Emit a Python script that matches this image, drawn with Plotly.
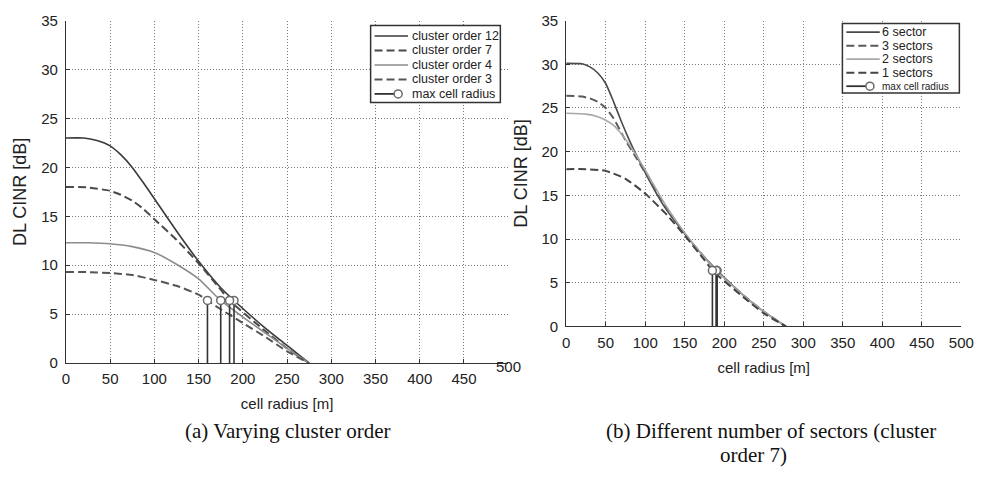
import plotly.graph_objects as go

W, H = 993, 484

# ---------------- data: (a) varying cluster order ----------------
R_ORDER12 = [0, 20, 35, 50, 62, 75, 87, 100, 125, 150, 175, 190, 225, 250, 275]
CINR_ORDER12 = [23.0, 23.0, 22.75, 22.2, 21.3, 20.0, 18.5, 16.8, 13.5, 10.4, 7.7, 6.4, 3.6, 1.8, 0.0]

R_ORDER7 = [0, 25, 50, 62, 75, 87, 100, 125, 150, 175, 185, 225, 250, 275]
CINR_ORDER7 = [18.0, 17.95, 17.6, 17.2, 16.6, 15.8, 14.7, 12.6, 10.2, 7.5, 6.4, 3.3, 1.5, 0.0]

R_ORDER4 = [0, 25, 50, 75, 100, 125, 150, 175, 200, 225, 250, 275]
CINR_ORDER4 = [12.3, 12.3, 12.2, 11.9, 11.3, 10.1, 8.6, 6.4, 4.7, 3.1, 1.5, 0.0]

R_ORDER3 = [0, 25, 50, 75, 100, 125, 150, 160, 175, 200, 225, 250, 275]
CINR_ORDER3 = [9.3, 9.3, 9.2, 9.0, 8.5, 7.9, 7.0, 6.4, 5.5, 4.1, 2.7, 1.2, 0.0]

ORDER_NAMES = ["cluster order 12", "cluster order 7", "cluster order 4", "cluster order 3"]
MAX_RADIUS_A = [190, 185, 175, 160]

# ---------------- data: (b) number of sectors ----------------
R_SECT6 = [0, 20, 30, 40, 50, 60, 70, 80, 90, 100, 113, 125, 150, 175, 191, 225, 250, 278]
CINR_SECT6 = [30.1, 30.05, 29.7, 29.0, 27.8, 25.7, 23.4, 21.3, 19.4, 17.6, 15.4, 13.6, 10.6, 7.9, 6.4, 3.5, 1.7, 0.0]

R_SECT3 = [0, 20, 30, 40, 50, 60, 75, 90, 100, 125, 150, 175, 190, 225, 250, 278]
CINR_SECT3 = [26.4, 26.3, 26.1, 25.7, 25.0, 23.8, 21.3, 19.1, 17.6, 13.8, 10.6, 7.9, 6.4, 3.5, 1.7, 0.0]

R_SECT2 = [0, 25, 40, 50, 60, 70, 80, 90, 100, 125, 150, 175, 190, 225, 250, 278]
CINR_SECT2 = [24.4, 24.3, 24.0, 23.6, 23.0, 22.0, 20.8, 19.4, 17.9, 14.0, 10.7, 7.9, 6.4, 3.5, 1.7, 0.0]

R_SECT1 = [0, 25, 50, 75, 100, 125, 150, 175, 185, 225, 250, 278]
CINR_SECT1 = [18.0, 18.0, 17.8, 16.9, 15.2, 13.0, 10.4, 7.6, 6.4, 3.3, 1.5, 0.0]

SECTOR_NAMES = ["6 sector", "3 sectors", "2 sectors", "1 sectors"]
MAX_RADIUS_B = [191, 190, 190, 185]

CINR_THRESHOLD = 6.4
MAX_LABEL = "max cell radius"

X_TICKS = [0, 50, 100, 150, 200, 250, 300, 350, 400, 450, 500]
Y_TICKS = [0, 5, 10, 15, 20, 25, 30, 35]
X_TITLE = "cell radius [m]"
Y_TITLE = "DL CINR [dB]"
CAPTION_A = "(a) Varying cluster order"
CAPTION_B1 = "(b) Different number of sectors (cluster"
CAPTION_B2 = "order 7)"

# ---------------- styles ----------------
SANS = "Liberation Sans, Arial, sans-serif"
SERIF = "Liberation Serif, Times New Roman, serif"
DASH = "8px,4px"
STYLE_A = [
    dict(color="#3a3a3a", width=1.6, dash="solid"),
    dict(color="#4a4a4a", width=2.0, dash=DASH),
    dict(color="#8c8c8c", width=1.6, dash="solid"),
    dict(color="#555555", width=2.0, dash=DASH),
]
STYLE_B = [
    dict(color="#4a4a4a", width=1.6, dash="solid"),
    dict(color="#5a5a5a", width=2.0, dash=DASH),
    dict(color="#a8a8a8", width=1.6, dash="solid"),
    dict(color="#444444", width=2.0, dash=DASH),
]

fig = go.Figure()

series_a = [(R_ORDER12, CINR_ORDER12), (R_ORDER7, CINR_ORDER7),
            (R_ORDER4, CINR_ORDER4), (R_ORDER3, CINR_ORDER3)]
series_b = [(R_SECT6, CINR_SECT6), (R_SECT3, CINR_SECT3),
            (R_SECT2, CINR_SECT2), (R_SECT1, CINR_SECT1)]


def add_panel(series, names, styles, max_radius, xa, ya):
    for (r, c), name, st in zip(series, names, styles):
        fig.add_trace(go.Scatter(
            x=r, y=c, mode="lines", name=name, xaxis=xa, yaxis=ya,
            line=dict(color=st["color"], width=st["width"], dash=st["dash"],
                      shape="spline", smoothing=0.5),
            hoverinfo="skip"))
    # stems from the axis up to the threshold at each maximum radius
    sx, sy = [], []
    for r in max_radius:
        sx += [r, r, None]
        sy += [0, CINR_THRESHOLD, None]
    fig.add_trace(go.Scatter(
        x=sx, y=sy, mode="lines", xaxis=xa, yaxis=ya,
        line=dict(color="#333333", width=1.6), hoverinfo="skip"))
    fig.add_trace(go.Scatter(
        x=max_radius, y=[CINR_THRESHOLD] * len(max_radius), mode="markers",
        name=MAX_LABEL, xaxis=xa, yaxis=ya,
        marker=dict(symbol="circle", size=8, color="white",
                    line=dict(color="#6a6a6a", width=1.5)),
        hoverinfo="skip"))


add_panel(series_a, ORDER_NAMES, STYLE_A, MAX_RADIUS_A, "x", "y")
add_panel(series_b, SECTOR_NAMES, STYLE_B, MAX_RADIUS_B, "x2", "y2")

axis_common = dict(
    showgrid=True, gridcolor="#7a7a7a", griddash="1px,2px", gridwidth=1,
    showline=True, linecolor="#333333", linewidth=1.2,
    ticks="inside", ticklen=4, tickcolor="#333333", tickwidth=1,
    zeroline=False, fixedrange=True,
    tickfont=dict(family=SANS, size=15, color="#222222"),
)


def px_x(p):
    return p / W


def px_y(p):
    return 1 - p / H


# panel (a) the last x label sits a little higher, drawn separately
ticktext_a = [str(v) for v in X_TICKS[:-1]] + [""]

fig.update_layout(
    width=W, height=H, margin=dict(l=0, r=0, t=0, b=0),
    paper_bgcolor="white", plot_bgcolor="white", showlegend=False,
    font=dict(family=SANS, color="#222222"),
    xaxis=dict(axis_common, domain=[px_x(63), px_x(513)], range=[0, 500],
               tickvals=X_TICKS, ticktext=ticktext_a, anchor="y",
               ticklabelstandoff=2,
               title=dict(text=X_TITLE, font=dict(size=15), standoff=12)),
    yaxis=dict(axis_common, domain=[px_y(367), px_y(12)], range=[0, 35],
               tickvals=Y_TICKS, anchor="x", ticklabelstandoff=4,
               title=dict(text=Y_TITLE, font=dict(size=18), standoff=9)),
    xaxis2=dict(axis_common, domain=[px_x(572), px_x(974)], range=[0, 500],
                tickvals=X_TICKS, anchor="y2", ticklabelstandoff=2,
                title=dict(text=X_TITLE, font=dict(size=15), standoff=12)),
    yaxis2=dict(axis_common, domain=[px_y(329), px_y(12)], range=[0, 35],
                tickvals=Y_TICKS, anchor="x2", ticklabelstandoff=4,
                title=dict(text=Y_TITLE, font=dict(size=18), standoff=9)),
)

annotations = [
    dict(x=500, xref="x", y=px_y(370), yref="paper", text="500",
         showarrow=False, xanchor="center", yanchor="middle",
         font=dict(family=SANS, size=15, color="#222222")),
    dict(x=px_x(288), y=px_y(437), xref="paper", yref="paper", text=CAPTION_A,
         showarrow=False, xanchor="center", yanchor="middle",
         font=dict(family=SERIF, size=21, color="#111111")),
    dict(x=px_x(780), y=px_y(437), xref="paper", yref="paper", text=CAPTION_B1,
         showarrow=False, xanchor="center", yanchor="middle",
         font=dict(family=SERIF, size=21, color="#111111")),
    dict(x=px_x(763), y=px_y(462), xref="paper", yref="paper", text=CAPTION_B2,
         showarrow=False, xanchor="center", yanchor="middle",
         font=dict(family=SERIF, size=21, color="#111111")),
]
shapes = []


def add_legend(box, rows_y, line_x, text_x, names, styles, font_sizes):
    x0, y0, x1, y1 = box
    shapes.append(dict(type="rect", xref="paper", yref="paper",
                       x0=px_x(x0), x1=px_x(x1), y0=px_y(y0), y1=px_y(y1),
                       line=dict(color="#333333", width=1.5),
                       fillcolor="white", layer="above"))
    for i, (name, st) in enumerate(zip(names, styles)):
        yy = px_y(rows_y[i])
        shapes.append(dict(type="line", xref="paper", yref="paper",
                           x0=px_x(line_x[0]), x1=px_x(line_x[1]), y0=yy, y1=yy,
                           line=dict(color=st["color"], width=st["width"],
                                     dash=st["dash"])))
        annotations.append(dict(x=px_x(text_x), y=yy, xref="paper", yref="paper",
                                text=name, showarrow=False, xanchor="left",
                                yanchor="middle",
                                font=dict(family=SANS, size=font_sizes[0],
                                          color="#222222")))
    # marker row
    yy = px_y(rows_y[-1])
    cx = line_x[1] - 10
    shapes.append(dict(type="line", xref="paper", yref="paper",
                       x0=px_x(line_x[0]), x1=px_x(cx - 4), y0=yy, y1=yy,
                       line=dict(color="#333333", width=1.8)))
    shapes.append(dict(type="circle", xref="paper", yref="paper",
                       xsizemode="pixel", ysizemode="pixel",
                       xanchor=px_x(cx), yanchor=yy,
                       x0=-4, x1=4, y0=-4, y1=4,
                       line=dict(color="#6a6a6a", width=1.5),
                       fillcolor="white"))
    annotations.append(dict(x=px_x(text_x), y=yy, xref="paper", yref="paper",
                            text=MAX_LABEL, showarrow=False, xanchor="left",
                            yanchor="middle",
                            font=dict(family=SANS, size=font_sizes[1],
                                      color="#222222")))


add_legend((373, 17, 505, 97), [28, 43, 58, 73, 88], (377, 411), 413,
           ORDER_NAMES, STYLE_A, (12.5, 12.5))
add_legend((853, 15, 972, 87), [24, 38, 52, 66, 80], (857, 891), 891,
           SECTOR_NAMES, STYLE_B, (12.5, 10))

fig.update_layout(annotations=annotations, shapes=shapes)

fig.write_html("out.html")
